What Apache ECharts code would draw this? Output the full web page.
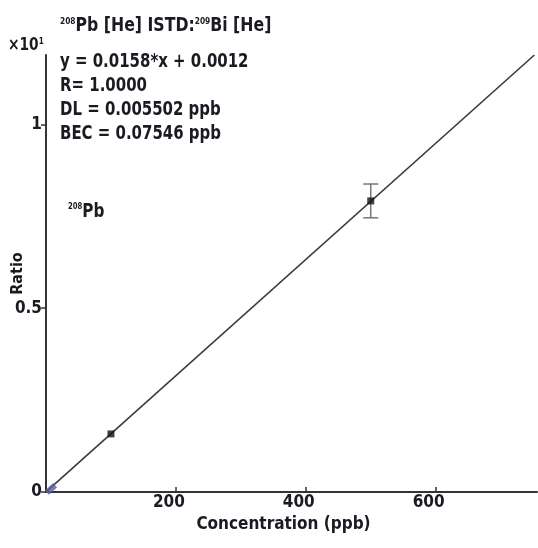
<!DOCTYPE html>
<html>
<head>
<meta charset="utf-8">
<script src="https://cdn.jsdelivr.net/npm/echarts@6/dist/echarts.min.js"></script>
<style>html,body{margin:0;padding:0;background:#fff}#c{width:538px;height:548px}</style>
</head>
<body>
<div id="c"></div>
<script>
// Data (ratio shown in units of x10^1)
const concentrations = [100, 500];
const ratios = [0.158, 0.792];
const blankPoint = [0, 0.0001];
const errorBarX = [500];
const errorLow = [0.746];
const errorHigh = [0.838];
const fitLineX = [0, 752];
const fitLineY = [0.0001, 1.189];
const xTickValues = [200, 400, 600];
const yTickValues = [0, 0.5, 1];
const annotationLines = ['y = 0.0158*x + 0.0012', 'R= 1.0000', 'DL = 0.005502 ppb', 'BEC = 0.07546 ppb'];

const FONT = '"DejaVu Sans Condensed", sans-serif';
const TXT = '#1a1a22';

const chart = echarts.init(document.getElementById('c'), null, {renderer: 'canvas'});

const pointData = concentrations.map((x, i) => [x, ratios[i]]);
const lineData = fitLineX.map((x, i) => [x, fitLineY[i]]);
const errData = errorBarX.map((x, i) => [x, errorLow[i], errorHigh[i]]);

chart.setOption({
  animation: false,
  grid: {left: 46, right: 1, top: 55, bottom: 56, containLabel: false, outerBoundsMode: 'none'},
  xAxis: {
    type: 'value', min: 0, max: 756,
    name: 'Concentration (ppb)', nameLocation: 'middle', nameGap: 24, nameMoveOverlap: false,
    nameTextStyle: {fontFamily: FONT, fontSize: 17, fontWeight: 'bold', color: TXT, padding: [0, 16, 0, 0]},
    splitLine: {show: false},
    axisLine: {lineStyle: {color: '#333', width: 2}},
    axisTick: {customValues: xTickValues, inside: true, length: 5, lineStyle: {color: '#333', width: 1.5}},
    axisLabel: {customValues: xTickValues, margin: 2, fontFamily: FONT, fontSize: 17, fontWeight: 'bold', color: TXT, padding: [0, 14, 0, 0]}
  },
  yAxis: {
    type: 'value', min: 0, max: 1.189,
    name: 'Ratio', nameLocation: 'middle', nameGap: 20, nameRotate: 90, nameMoveOverlap: false,
    nameTextStyle: {fontFamily: FONT, fontSize: 16, fontWeight: 'bold', color: TXT},
    splitLine: {show: false},
    axisLine: {lineStyle: {color: '#333', width: 2}},
    axisTick: {customValues: yTickValues, length: 5, lineStyle: {color: '#333', width: 1.5}},
    axisLabel: {customValues: yTickValues, margin: 4, fontFamily: FONT, fontSize: 17, fontWeight: 'bold', color: TXT}
  },
  graphic: [
    {type: 'text', left: 60, top: 17, scaleX: 0.92, style: {
      text: '{s|208}Pb [He] ISTD:{s|209}Bi [He]',
      fontFamily: FONT, fontSize: 19, fontWeight: 'bold', fill: TXT,
      rich: {s: {fontFamily: FONT, fontSize: 9, fontWeight: 'bold', verticalAlign: 'top', lineHeight: 15, fill: TXT}}
    }},
    {type: 'text', left: 8, top: 37, scaleX: 0.9, style: {
      text: '×10{s|1}', fontFamily: FONT, fontSize: 17, fontWeight: 'bold', fill: TXT,
      rich: {s: {fontFamily: FONT, fontSize: 9, fontWeight: 'bold', verticalAlign: 'top', lineHeight: 12, fill: TXT}}
    }},
    {type: 'text', left: 60, top: 50, scaleX: 0.875, style: {
      text: annotationLines.join('\n'), fontFamily: FONT, fontSize: 19, fontWeight: 'bold',
      lineHeight: 24, fill: TXT
    }},
    {type: 'text', left: 68, top: 202, scaleX: 0.85, style: {
      text: '{s|208}Pb', fontFamily: FONT, fontSize: 20, fontWeight: 'bold', fill: TXT,
      rich: {s: {fontFamily: FONT, fontSize: 9, fontWeight: 'bold', verticalAlign: 'top', lineHeight: 15, fill: TXT}}
    }}
  ],
  series: [
    {
      type: 'line', data: lineData, showSymbol: false, symbol: 'none',
      lineStyle: {color: '#3a3a3a', width: 1.6}, z: 2
    },
    {
      type: 'custom', data: errData, z: 3,
      renderItem: function (params, api) {
        const lo = api.coord([api.value(0), api.value(1)]);
        const hi = api.coord([api.value(0), api.value(2)]);
        const hw = 7.5;
        const st = {stroke: '#777', lineWidth: 1.5};
        return {type: 'group', children: [
          {type: 'line', shape: {x1: lo[0], y1: lo[1], x2: hi[0], y2: hi[1]}, style: st},
          {type: 'line', shape: {x1: lo[0] - hw, y1: lo[1], x2: lo[0] + hw, y2: lo[1]}, style: st},
          {type: 'line', shape: {x1: hi[0] - hw, y1: hi[1], x2: hi[0] + hw, y2: hi[1]}, style: st}
        ]};
      }
    },
    {
      type: 'scatter', data: pointData, symbol: 'rect', symbolSize: 7,
      itemStyle: {color: '#111'}, z: 4
    },
    {
      type: 'scatter', data: [blankPoint], symbol: 'rect', symbolSize: [11, 6], symbolRotate: 42,
      symbolOffset: [5, -3], clip: false, itemStyle: {color: '#5b5ba8'}, z: 5
    }
  ]
});
</script>
</body>
</html>
